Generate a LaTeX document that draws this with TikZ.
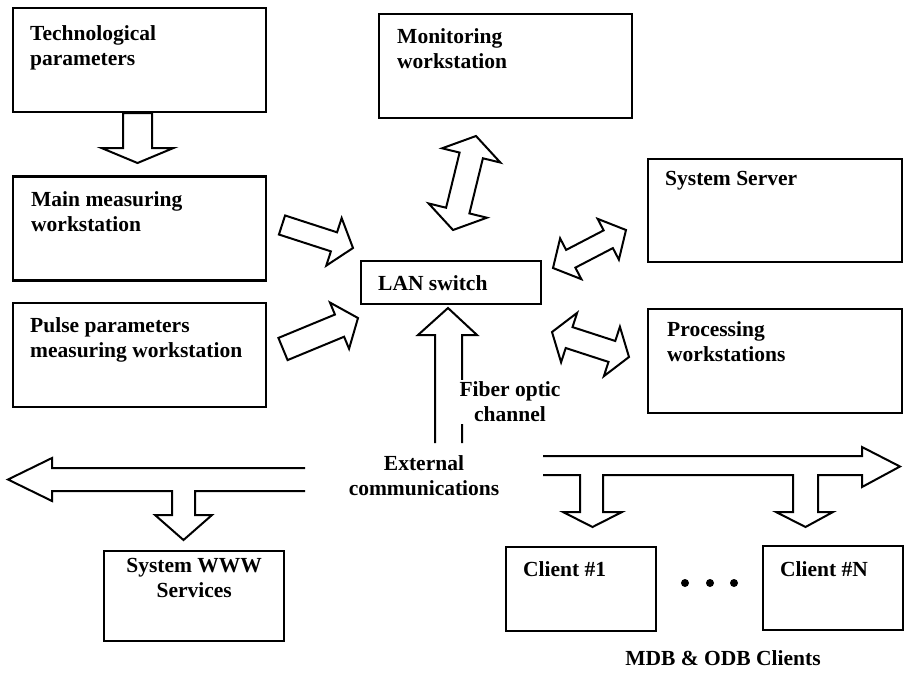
\documentclass[tikz,border=0pt]{standalone}
\usepackage{fontspec}
\setmainfont{Liberation Serif}
\usetikzlibrary{positioning,calc}

\newcommand{\sglarr}[5]{%
  \coordinate (hb) at ($(#2)!#5!(#1)$);
  \draw[bigarr] ($(#1)!#3!90:(#2)$) -- ($(hb)!#3!90:(#2)$) -- ($(hb)!#4!90:(#2)$) -- (#2)
    -- ($(hb)!#4!-90:(#2)$) -- ($(hb)!#3!-90:(#2)$) -- ($(#1)!#3!-90:(#2)$) -- cycle;}
\newcommand{\dblarr}[5]{%
  \coordinate (ha) at ($(#1)!#5!(#2)$);
  \coordinate (hb) at ($(#2)!#5!(#1)$);
  \draw[bigarr] (#1) -- ($(ha)!#4!90:(#2)$) -- ($(ha)!#3!90:(#2)$) -- ($(hb)!#3!90:(#2)$)
    -- ($(hb)!#4!90:(#2)$) -- (#2) -- ($(hb)!#4!-90:(#2)$) -- ($(hb)!#3!-90:(#2)$)
    -- ($(ha)!#3!-90:(#2)$) -- ($(ha)!#4!-90:(#2)$) -- cycle;}

\begin{document}
\begin{tikzpicture}[x=1pt, y=-1pt, line join=miter,
  box/.style={draw, line width=2.4pt, minimum width=253, minimum height=104, anchor=north west, inner sep=0pt},
  txt/.style={font=\bfseries\fontsize{21.5}{25}\selectfont, align=left, inner sep=0pt},
  outline/.style={draw, line width=2pt},
  bigarr/.style={outline, fill=white}]
\useasboundingbox (0,0) rectangle (905,678);

\node[box] (tech) at (12,7) {};
\node[box, below=62pt of tech.south west, anchor=north west] (main) {};
\node[box, below=20pt of main.south west, anchor=north west] (pulse) {};
\node[box] (mon) at (378,13) {};
\node[box, minimum width=254, minimum height=103] (server) at (647,158) {};
\node[box, minimum width=254] (proc) at (647,308) {};
\node[box, minimum width=180, minimum height=43] (lan) at (360,260) {};
\node[box, minimum width=180, minimum height=90] (www) at (103,550) {};
\node[box, minimum width=150, minimum height=84] (cl1) at (505,546) {};
\node[box, minimum width=140, minimum height=84] (cln) at (762,545) {};

\node[txt, below right=18pt and 18pt of tech.north west] (techtxt) {Technological\\parameters};
\node[txt, below right=16pt and 19pt of main.north west] (maintxt) {Main measuring\\workstation};
\node[txt, below right=16pt and 18pt of pulse.north west] (pulsetxt) {Pulse parameters\\measuring workstation};
\node[txt, below right=15pt and 19pt of mon.north west] (montxt) {Monitoring\\workstation};
\node[txt, below right=13pt and 18pt of server.north west] (servtxt) {System Server};
\node[txt, below right=13pt and 20pt of proc.north west] (proctxt) {Processing\\workstations};
\node[txt, right=18pt of lan.west] (lantxt) {LAN switch};
\node[txt, align=center, below=8pt of www.north] (wwwtxt) {System WWW\\Services};
\node[txt, below right=15pt and 18pt of cl1.north west] (cl1txt) {Client \#1};
\node[txt, below right=16pt and 18pt of cln.north west] (clntxt) {Client \#N};

\coordinate (techout) at (137.5,113);
\coordinate (mainin) at (137.5,163);
\sglarr{techout}{mainin}{14.5pt}{36pt}{15pt}
\coordinate (mainout) at (282,225);
\coordinate (lanin1) at (353,248);
\sglarr{mainout}{lanin1}{10pt}{25pt}{20pt}
\coordinate (pulseout) at (283,349);
\coordinate (lanin2) at (358,318);
\sglarr{pulseout}{lanin2}{12pt}{25pt}{20pt}

\coordinate (lanup) at (453,230);
\coordinate (mondown) at (476,136);
\dblarr{lanup}{mondown}{12pt}{30pt}{20pt}
\coordinate (lanr1) at (553,268);
\coordinate (servin) at (626,230);
\dblarr{lanr1}{servin}{10pt}{23pt}{20pt}
\coordinate (lanr2) at (552,332);
\coordinate (procin) at (629,357);
\dblarr{lanr2}{procin}{11pt}{26pt}{18pt}

\draw[outline] (435,443) -- (435,335) -- (418,335) -- (448,308) -- (477,335) -- (462,335) -- (462,443);
\node[txt, align=center, fill=white, inner ysep=2pt] (fiber) at (510,402) {Fiber optic\\channel};
\node[txt, align=center] (ext) at (424,476) {External\\communications};

\draw[outline] (305,468) -- (52,468) -- (52,458) -- (8,479.5) -- (52,501) -- (52,491) -- (172,491)
  -- (172,515) -- (155,515) -- (183.5,540) -- (212,515) -- (195,515) -- (195,491) -- (305,491);
\draw[outline] (543,456) -- (862,456) -- (862,447) -- (900,466.5) -- (862,487) -- (862,475) -- (818,475)
  -- (818,512) -- (833,512) -- (805.5,527) -- (776,512) -- (793,512) -- (793,475) -- (603,475)
  -- (603,512) -- (622,512) -- (592.5,527) -- (563,512) -- (580,512) -- (580,475) -- (543,475);

\foreach \x in {685,710,734} \fill (\x,583) circle (4pt);
\node[txt] (mdb) at (723,658) {MDB \& ODB Clients};
\end{tikzpicture}
\end{document}
